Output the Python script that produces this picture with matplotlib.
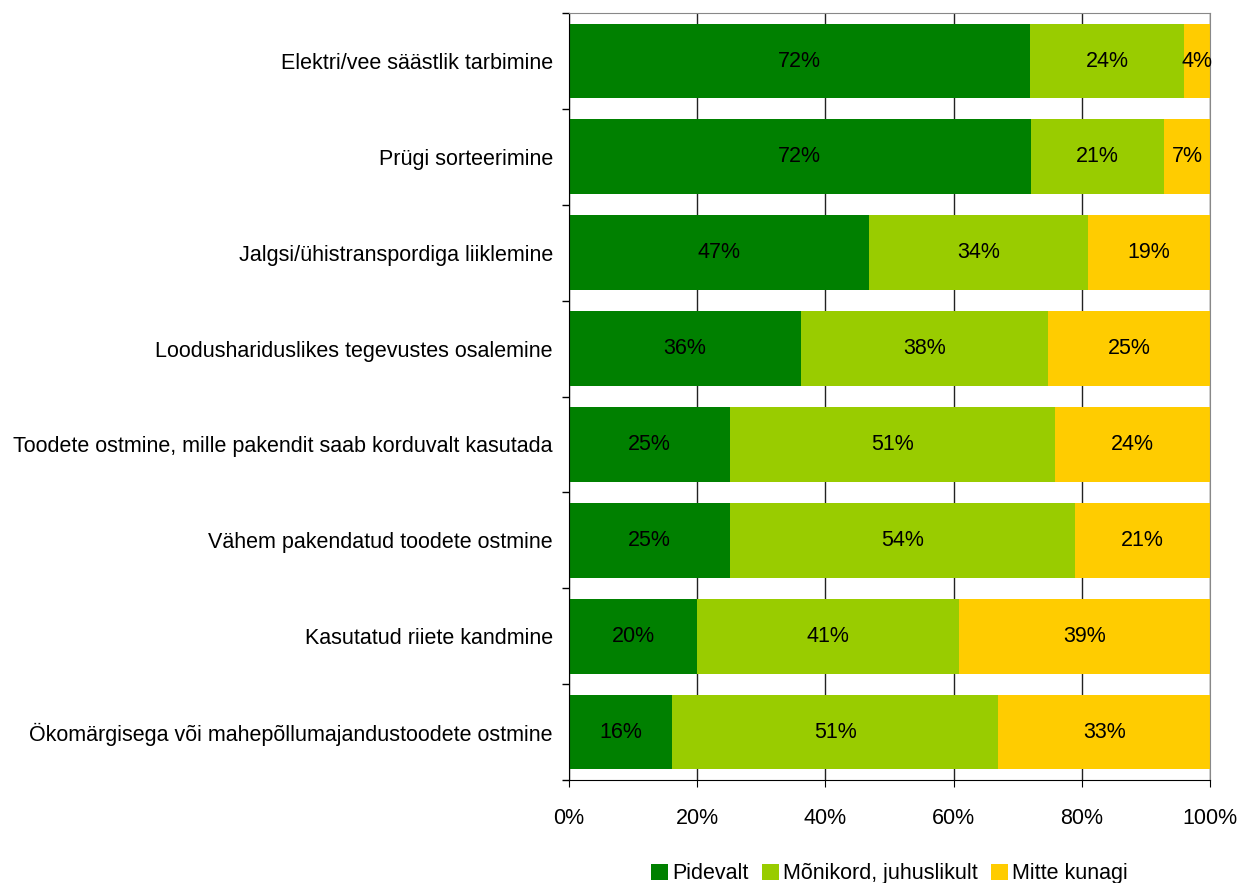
import numpy as np
import matplotlib.pyplot as plt
from matplotlib.ticker import MultipleLocator, FuncFormatter

plt.rcParams['font.family'] = ['Liberation Sans', 'DejaVu Sans']

categories = [
    "Elektri/vee säästlik tarbimine",
    "Prügi sorteerimine",
    "Jalgsi/ühistranspordiga liiklemine",
    "Loodushariduslikes tegevustes osalemine",
    "Toodete ostmine, mille pakendit saab korduvalt kasutada",
    "Vähem pakendatud toodete ostmine",
    "Kasutatud riiete kandmine",
    "Ökomärgisega või mahepõllumajandustoodete ostmine",
]
series = ["Pidevalt", "Mõnikord, juhuslikult", "Mitte kunagi"]
pidevalt = [71.9, 72.0, 46.8, 36.2, 25.1, 25.1, 20.0, 16.1]
monikord = [24.1, 20.8, 34.2, 38.5, 50.7, 53.8, 40.8, 50.9]
mitte = [4.0, 7.2, 19.0, 25.3, 24.2, 21.1, 39.2, 33.0]
colors = ["#008000", "#99CC00", "#FFCC00"]

fs = 15.5

fig = plt.figure(figsize=(12.39, 8.83), dpi=100)
ax = fig.add_axes([0.4592, 0.1166, 0.5174, 0.8686])

y = np.arange(len(categories))
left = np.zeros(len(categories))
for name, vals, c in zip(series, [pidevalt, monikord, mitte], colors):
    vals = np.array(vals)
    ax.barh(y, vals, left=left, height=0.78, color=c, label=name, zorder=2)
    for yi, l, v in zip(y, left, vals):
        ax.text(l + v / 2, yi, f"{v:.0f}%", ha="center", va="center",
                fontsize=fs, color="black", zorder=3)
    left += vals

ax.set_xlim(0, 100)
ax.set_ylim(len(categories) - 0.5, -0.5)
ax.xaxis.set_major_locator(MultipleLocator(20))
ax.xaxis.set_major_formatter(FuncFormatter(lambda v, p: f"{v:.0f}%"))
ax.grid(axis="x", color="#222222", linewidth=1, zorder=0)

ax.set_yticks(y)
ax.set_yticklabels(categories, fontsize=fs)
ax.set_yticks(np.arange(-0.5, len(categories), 1), minor=True)
ax.tick_params(axis="y", which="major", length=0, pad=11.5)
ax.tick_params(axis="y", which="minor", length=5, direction="out", width=1)
ax.tick_params(axis="x", length=5, direction="out", labelsize=fs, pad=15)

ax.spines["left"].set_color("black")
ax.spines["bottom"].set_color("black")
ax.spines["top"].set_color("#888888")
ax.spines["right"].set_color("#888888")

ax.legend(loc="lower center", bbox_to_anchor=(0.5, -0.136), ncol=3, frameon=False,
          fontsize=fs, handlelength=0.8, handleheight=0.8, handletextpad=0.2,
          columnspacing=0.6, borderaxespad=0, borderpad=0)

plt.savefig("out.png", dpi=100)
